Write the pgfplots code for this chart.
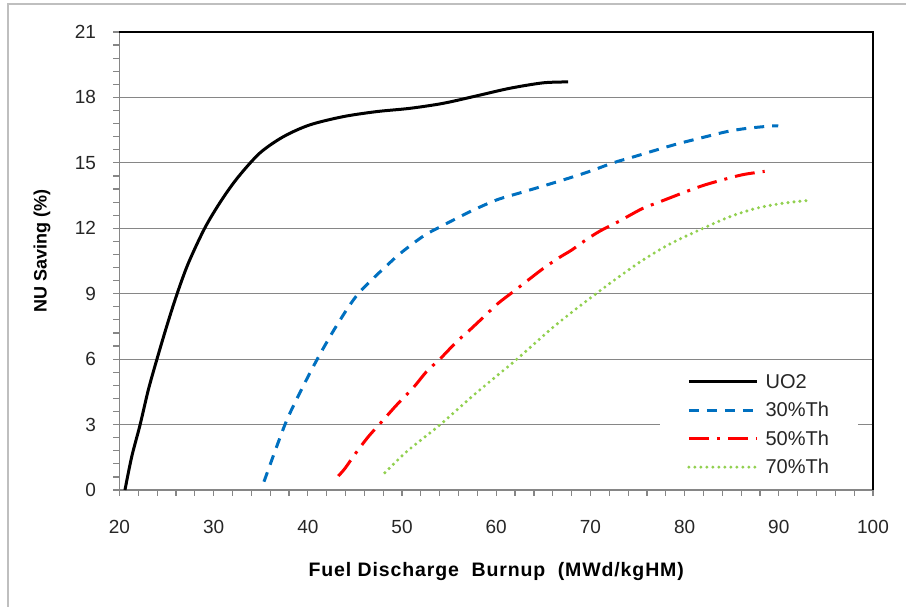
\documentclass[border=0pt]{standalone}
\usepackage{fontspec}
\setmainfont{Liberation Sans}
\usepackage{pgfplots}
\pgfplotsset{compat=1.18}
\definecolor{th30}{RGB}{0,112,192}
\definecolor{th50}{RGB}{255,0,0}
\definecolor{th70}{RGB}{146,208,80}
\definecolor{gridc}{RGB}{134,134,134}
\definecolor{framec}{RGB}{191,191,191}
\definecolor{tickc}{RGB}{38,38,38}
\begin{document}
\begin{tikzpicture}
\useasboundingbox (-119.5pt,-117pt) rectangle (786.5pt,490pt);
\draw[line width=1.2pt, framec] (-111.5pt,-117pt) -- (-111.5pt,486pt) -- (786.5pt,486pt);
\begin{axis}[
  scale only axis, width=753.5pt, height=458pt,
  xmin=20, xmax=100, ymin=0, ymax=21,
  xtick={20,30,...,100}, ytick={0,3,...,21},
  minor x tick num=4, minor y tick num=4,
  tick align=outside, tick pos=left,
  major tick length=6pt, minor tick length=6pt,
  every tick/.style={gridc, line width=1.2pt},
  ymajorgrids, grid style={gridc, line width=1.2pt},
  axis line style={gridc, line width=1.4pt},
  clip=false,
  /pgf/number format/assume math mode=true,
  tick label style={font=\fontsize{19}{22}\selectfont, color=tickc},
  xticklabel style={yshift=-21pt},
  yticklabel style={xshift=-14pt},
  xlabel={Fuel Discharge\ \ Burnup\ \ (MWd/kgHM)},
  ylabel={NU Saving (\%)},
  xlabel style={font=\bfseries\fontsize{19.5}{22}\selectfont\addfontfeatures{LetterSpace=4.5},
    at={(axis description cs:0.5,-0.179)}, anchor=center},
  ylabel style={font=\bfseries\fontsize{18}{22}\selectfont,
    at={(axis description cs:-0.103,0.521)}, anchor=center},
  legend style={draw=none, fill=white, at={(rel axis cs:0.7173,0.2664)}, anchor=north west,
    font=\fontsize{20}{22}\selectfont, text=tickc, inner xsep=27pt, inner ysep=4pt,
    row sep=8.5pt, column sep=5pt, cells={anchor=west}},
  legend cell align=left,
  legend image code/.code={\draw[#1] (0pt,0pt) -- (68pt,0pt);},
]
\addplot[black, line width=3pt, smooth] coordinates {
(20.58,0) (21.3,1.53) (22.18,2.98) (23.06,4.59) (23.95,5.96) (25.0,7.49) (26.07,8.94)
(27.3,10.39) (29.08,12.03) (30.85,13.3) (32.6,14.35) (34.9,15.45) (37.4,16.2) (40.2,16.74)
(43.76,17.12) (47.3,17.35) (50.84,17.5) (54.37,17.73) (57.9,18.07) (61.45,18.42) (65.0,18.67) (67.64,18.71)
};
\addlegendentry{UO2}
\addplot[th30, line width=3pt, dash pattern=on 10pt off 8pt, smooth] coordinates {
(35.34,0.38) (37.57,3.0) (39.2,4.5) (41.0,6.0) (43.0,7.5) (45.35,9.0) (48.9,10.5) (50.49,11.08)
(52.43,11.69) (54.2,12.1) (57.2,12.76) (60.04,13.3) (62.5,13.62) (65.0,13.94) (67.5,14.27)
(70.0,14.62) (72.4,15.0) (74.54,15.27) (77.0,15.59) (79.15,15.86) (81.8,16.15) (84.46,16.43)
(86.58,16.58) (89.23,16.69) (89.94,16.69)
};
\addlegendentry{30\%Th}
\addplot[th50, line width=3pt, dash pattern=on 20pt off 8pt on 3pt off 8pt, smooth] coordinates {
(43.23,0.64) (43.94,0.99) (45.0,1.64) (46.41,2.44) (47.76,3.09) (49.43,3.9) (51.19,4.69)
(52.6,5.43) (54.1,6.04) (55.8,6.8) (57.2,7.34) (58.8,7.99) (60.2,8.56) (61.8,9.09) (63.4,9.63)
(65.0,10.16) (66.7,10.66) (68.0,11.0) (69.5,11.46) (71.0,11.87) (72.95,12.3) (74.2,12.6)
(75.6,12.92) (77.4,13.22) (79.85,13.63) (81.8,13.94) (83.93,14.21) (86.2,14.46) (88.5,14.61)
};
\addlegendentry{50\%Th}
\addplot[th70, line width=3.4pt, line cap=round, dash pattern=on 0pt off 6pt, smooth] coordinates {
(48.18,0.79) (50.49,1.76) (54.0,2.98) (57.9,4.46) (62.17,5.99) (65.7,7.34) (68.17,8.2)
(70.66,9.02) (72.78,9.7) (75.6,10.55) (78.44,11.28) (81.97,12.0) (84.8,12.53) (87.64,12.92)
(90.47,13.15) (92.95,13.27)
};
\addlegendentry{70\%Th}
\draw[black, line width=1.4pt] (rel axis cs:0,1) -- (rel axis cs:1,1) -- (rel axis cs:1,0);
\end{axis}
\end{tikzpicture}
\end{document}
